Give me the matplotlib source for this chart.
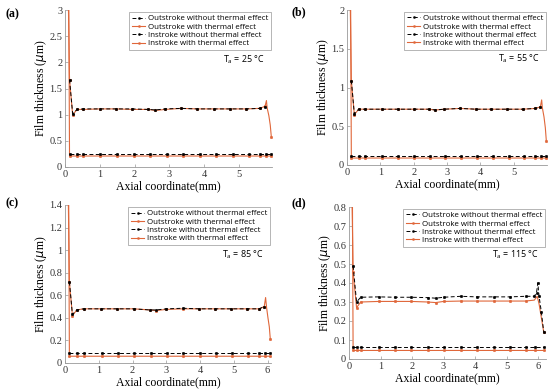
import matplotlib.pyplot as plt

# ---------------- data ----------------
# (a) Ta = 25 C
A_OUT_NT_X = [0.13, 0.22, 0.35, 0.52, 1.0, 1.47, 1.94, 2.4, 2.6, 2.87, 3.34, 3.8, 4.27, 4.74, 5.2, 5.6, 5.75]
A_OUT_NT = [1.67, 1.02, 1.10, 1.11, 1.11, 1.11, 1.11, 1.10, 1.09, 1.11, 1.12, 1.11, 1.11, 1.11, 1.11, 1.12, 1.15]
A_OUT_T_X = [0.10, 0.13, 0.22, 0.35, 0.52, 1.0, 1.47, 1.94, 2.4, 2.6, 2.87, 3.34, 3.8, 4.27, 4.74, 5.2, 5.6, 5.75, 5.79, 5.81, 5.86, 5.90, 5.93]
A_OUT_T = [3.0, 1.67, 1.00, 1.10, 1.10, 1.11, 1.11, 1.10, 1.10, 1.08, 1.10, 1.12, 1.11, 1.11, 1.11, 1.11, 1.12, 1.16, 1.27, 1.13, 0.98, 0.80, 0.58]
A_IN_NT_X = [0.13, 0.35, 0.52, 1.0, 1.5, 1.97, 2.45, 2.93, 3.4, 3.88, 4.35, 4.83, 5.3, 5.6, 5.78, 5.93]
A_IN_NT = [0.24, 0.24, 0.24, 0.24, 0.24, 0.24, 0.24, 0.24, 0.24, 0.24, 0.24, 0.24, 0.24, 0.24, 0.24, 0.24]
A_IN_T_X = [0.11, 0.13, 0.35, 0.52, 1.0, 1.5, 1.97, 2.45, 2.93, 3.4, 3.88, 4.35, 4.83, 5.3, 5.6, 5.78, 5.93]
A_IN_T = [3.0, 0.21, 0.21, 0.21, 0.21, 0.21, 0.21, 0.21, 0.21, 0.21, 0.21, 0.21, 0.21, 0.21, 0.21, 0.21, 0.21]

# (b) Ta = 55 C
B_OUT_NT_X = [0.13, 0.22, 0.35, 0.55, 1.05, 1.52, 2.0, 2.45, 2.65, 2.92, 3.4, 3.87, 4.33, 4.8, 5.27, 5.65, 5.8]
B_OUT_NT = [1.09, 0.66, 0.72, 0.72, 0.72, 0.72, 0.72, 0.72, 0.71, 0.72, 0.73, 0.72, 0.72, 0.72, 0.72, 0.73, 0.75]
B_OUT_T_X = [0.10, 0.13, 0.22, 0.35, 0.55, 1.05, 1.52, 2.0, 2.45, 2.65, 2.92, 3.4, 3.87, 4.33, 4.8, 5.27, 5.65, 5.8, 5.84, 5.86, 5.91, 5.95, 5.98]
B_OUT_T = [2.0, 1.09, 0.65, 0.72, 0.72, 0.72, 0.72, 0.72, 0.72, 0.71, 0.72, 0.73, 0.72, 0.72, 0.72, 0.72, 0.73, 0.75, 0.84, 0.74, 0.62, 0.48, 0.31]
B_IN_NT_X = [0.13, 0.35, 0.55, 1.05, 1.52, 2.0, 2.48, 2.95, 3.43, 3.9, 4.37, 4.85, 5.32, 5.65, 5.82, 5.98]
B_IN_NT = [0.12, 0.12, 0.12, 0.12, 0.12, 0.12, 0.12, 0.12, 0.12, 0.12, 0.12, 0.12, 0.12, 0.12, 0.12, 0.12]
B_IN_T_X = [0.11, 0.13, 0.35, 0.55, 1.05, 1.52, 2.0, 2.48, 2.95, 3.43, 3.9, 4.37, 4.85, 5.32, 5.65, 5.82, 5.98]
B_IN_T = [2.0, 0.09, 0.09, 0.09, 0.09, 0.09, 0.09, 0.09, 0.09, 0.09, 0.09, 0.09, 0.09, 0.09, 0.09, 0.09, 0.09]

# (c) Ta = 85 C
C_OUT_NT_X = [0.13, 0.22, 0.35, 0.55, 1.08, 1.55, 2.03, 2.52, 2.7, 3.0, 3.5, 3.97, 4.45, 4.93, 5.4, 5.75, 5.9]
C_OUT_NT = [0.72, 0.43, 0.47, 0.48, 0.48, 0.48, 0.48, 0.47, 0.47, 0.48, 0.485, 0.48, 0.48, 0.48, 0.48, 0.48, 0.50]
C_OUT_T_X = [0.10, 0.13, 0.22, 0.35, 0.55, 1.08, 1.55, 2.03, 2.52, 2.7, 3.0, 3.5, 3.97, 4.45, 4.93, 5.4, 5.75, 5.9, 5.94, 5.97, 6.01, 6.05, 6.08]
C_OUT_T = [1.4, 0.72, 0.42, 0.47, 0.48, 0.48, 0.48, 0.48, 0.47, 0.465, 0.475, 0.48, 0.48, 0.48, 0.48, 0.48, 0.48, 0.50, 0.58, 0.49, 0.40, 0.32, 0.21]
C_IN_NT_X = [0.13, 0.35, 0.55, 1.1, 1.58, 2.05, 2.55, 3.02, 3.5, 4.0, 4.47, 4.95, 5.42, 5.75, 5.92, 6.08]
C_IN_NT = [0.085, 0.085, 0.085, 0.085, 0.085, 0.085, 0.085, 0.085, 0.085, 0.085, 0.085, 0.085, 0.085, 0.085, 0.085, 0.085]
C_IN_T_X = [0.11, 0.13, 0.35, 0.55, 1.1, 1.58, 2.05, 2.55, 3.02, 3.5, 4.0, 4.47, 4.95, 5.42, 5.75, 5.92, 6.08]
C_IN_T = [1.4, 0.06, 0.06, 0.06, 0.06, 0.06, 0.06, 0.06, 0.06, 0.06, 0.06, 0.06, 0.06, 0.06, 0.06, 0.06, 0.06]

# (d) Ta = 115 C
D_OUT_NT_X = [0.13, 0.24, 0.37, 0.95, 1.45, 1.97, 2.5, 2.75, 3.0, 3.55, 4.05, 4.6, 5.1, 5.6, 5.88, 5.95, 5.99, 6.03, 6.1, 6.18]
D_OUT_NT = [0.49, 0.30, 0.325, 0.327, 0.325, 0.325, 0.323, 0.32, 0.325, 0.33, 0.327, 0.327, 0.327, 0.33, 0.33, 0.35, 0.40, 0.33, 0.25, 0.14]
D_OUT_T_X = [0.10, 0.13, 0.24, 0.37, 0.95, 1.45, 1.97, 2.5, 2.75, 3.0, 3.55, 4.05, 4.6, 5.1, 5.6, 5.88, 5.97, 6.03, 6.1, 6.18]
D_OUT_T = [0.8, 0.46, 0.27, 0.30, 0.303, 0.303, 0.303, 0.30, 0.297, 0.303, 0.305, 0.305, 0.305, 0.305, 0.305, 0.31, 0.33, 0.29, 0.22, 0.14]
D_IN_NT_X = [0.13, 0.24, 0.37, 0.95, 1.47, 1.98, 2.5, 3.02, 3.55, 4.07, 4.6, 5.1, 5.62, 5.9, 6.18]
D_IN_NT = [0.062, 0.062, 0.062, 0.062, 0.062, 0.062, 0.062, 0.062, 0.062, 0.062, 0.062, 0.062, 0.062, 0.062, 0.062]
D_IN_T_X = [0.11, 0.13, 0.24, 0.37, 0.95, 1.47, 1.98, 2.5, 3.02, 3.55, 4.07, 4.6, 5.1, 5.62, 5.9, 6.18]
D_IN_T = [0.8, 0.045, 0.045, 0.045, 0.045, 0.045, 0.045, 0.045, 0.045, 0.045, 0.045, 0.045, 0.045, 0.045, 0.045, 0.045]

PANEL_LABELS = ["(a)", "(b)", "(c)", "(d)"]
TEMPS = ["25", "55", "85", "115"]
XLIMS = [5.95, 6.0, 6.1, 6.25]
YLIMS = [3.0, 2.0, 1.4, 0.8]
YTICKS = [[0, 0.5, 1, 1.5, 2, 2.5, 3],
          [0, 0.5, 1, 1.5, 2],
          [0, 0.2, 0.4, 0.6, 0.8, 1, 1.2, 1.4],
          [0, 0.1, 0.2, 0.3, 0.4, 0.5, 0.6, 0.7, 0.8]]
XTICKS = [[0, 1, 2, 3, 4, 5], [0, 1, 2, 3, 4, 5], [0, 1, 2, 3, 4, 5, 6], [0, 1, 2, 3, 4, 5, 6]]
LEGEND = ["Outstroke without thermal effect", "Outstroke with thermal effect",
          "Instroke without thermal effect", "Instroke with thermal effect"]

SERIES = [
    (A_OUT_NT_X, A_OUT_NT, A_OUT_T_X, A_OUT_T, A_IN_NT_X, A_IN_NT, A_IN_T_X, A_IN_T),
    (B_OUT_NT_X, B_OUT_NT, B_OUT_T_X, B_OUT_T, B_IN_NT_X, B_IN_NT, B_IN_T_X, B_IN_T),
    (C_OUT_NT_X, C_OUT_NT, C_OUT_T_X, C_OUT_T, C_IN_NT_X, C_IN_NT, C_IN_T_X, C_IN_T),
    (D_OUT_NT_X, D_OUT_NT, D_OUT_T_X, D_OUT_T, D_IN_NT_X, D_IN_NT, D_IN_T_X, D_IN_T),
]

# ---------------- layout ----------------
W, H = 550, 389
BOXES = [(65, 272, 10, 167), (347, 547, 10, 165), (65, 271, 205, 363), (349, 546, 207, 359)]
LABEL_POS = [(5, 14), (291, 12), (5, 203), (291, 203)]

ORANGE = "#E0673A"
SERIF = ["Liberation Serif", "DejaVu Serif"]
SANS = ["Open Sans", "DejaVu Sans"]

fig = plt.figure(figsize=(W / 100, H / 100), dpi=100)

for i in range(4):
    l, r, t, b = BOXES[i]
    ax = fig.add_axes([l / W, 1 - b / H, (r - l) / W, (b - t) / H])
    oxn, oyn, oxt, oyt, ixn, iyn, ixt, iyt = SERIES[i]
    ms = 1.9
    mew = 0.3
    ax.plot(oxn, oyn, color="black", lw=0.7, ls=(0, (4, 2.5)), marker="o", ms=ms, mew=mew,
            label=LEGEND[0], zorder=3)
    n = len(oxt)
    mk = list(range(1, n - 5)) + [n - 1]
    ax.plot(oxt, oyt, color=ORANGE, lw=0.8, marker="o", ms=ms, mew=mew, markevery=mk,
            label=LEGEND[1], zorder=2)
    ax.plot(ixn, iyn, color="black", lw=0.7, ls=(0, (4, 2.5)), marker="o", ms=ms, mew=mew,
            label=LEGEND[2], zorder=3)
    ax.plot(ixt, iyt, color=ORANGE, lw=0.8, marker="o", ms=ms, mew=mew,
            markevery=list(range(1, len(ixt))), label=LEGEND[3], zorder=2)

    ax.set_xlim(0, XLIMS[i])
    ax.set_ylim(0, YLIMS[i])
    ax.set_xticks(XTICKS[i])
    ax.set_yticks(YTICKS[i])
    ax.set_yticklabels([f"{v:g}" for v in YTICKS[i]])
    for s in ["top", "right"]:
        ax.spines[s].set_visible(False)
    for s in ["left", "bottom"]:
        ax.spines[s].set_color("#999999")
        ax.spines[s].set_linewidth(0.6)
    ax.tick_params(direction="in", length=2, width=0.5, color="#999999",
                   labelsize=7.5, labelcolor="#333333", pad=2)
    for lab in ax.get_xticklabels() + ax.get_yticklabels():
        lab.set_family(SERIF)
    ax.set_xlabel("Axial coordinate(mm)", fontsize=8.5, family=SERIF, labelpad=1)
    ax.set_ylabel(r"Film thickness ($\mu$m)", fontsize=8.5, family=SERIF, labelpad=0)

    leg = ax.legend(loc="upper right", bbox_to_anchor=(1.0, 0.99),
                    prop={"family": SANS, "size": 5.7},
                    handlelength=1.7, handletextpad=0.4, borderpad=0.3,
                    labelspacing=0.1, borderaxespad=0.1, fancybox=False,
                    framealpha=1, markerscale=0.8)
    leg.get_frame().set_edgecolor("#999999")
    leg.get_frame().set_linewidth(0.5)

    ax.text(0.965, 0.685, f"T$_\\mathregular{{a}}$ = {TEMPS[i]} °C", transform=ax.transAxes,
            ha="right", va="center", fontsize=6.4, family=SANS)

    fig.text(LABEL_POS[i][0] / W, 1 - LABEL_POS[i][1] / H, PANEL_LABELS[i],
             fontsize=8.5, fontweight="bold", family=SERIF, ha="left", va="center")

fig.savefig("out.png", dpi=100)
